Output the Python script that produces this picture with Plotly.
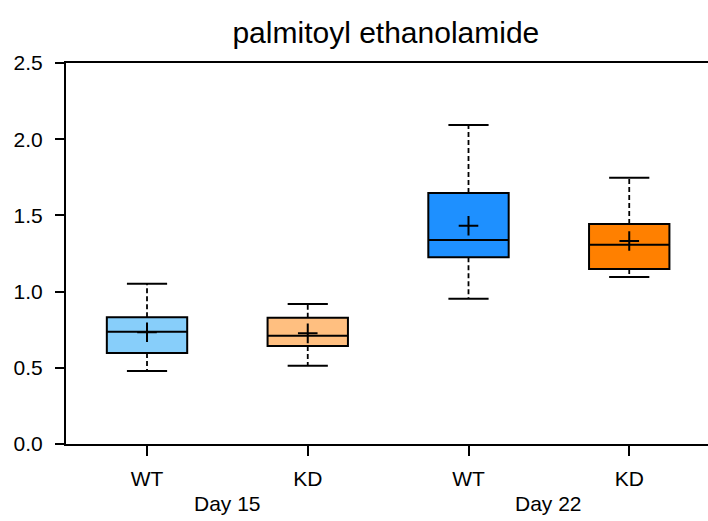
import plotly.graph_objects as go

categories = ["WT", "KD", "WT", "KD"]
groups = ["Day 15", "Day 22"]
q1 = [0.597, 0.643, 1.225, 1.148]
median = [0.737, 0.711, 1.339, 1.308]
q3 = [0.831, 0.829, 1.647, 1.444]
lower = [0.479, 0.514, 0.953, 1.096]
upper = [1.052, 0.919, 2.093, 1.747]
means = [0.733, 0.726, 1.432, 1.332]
colors = ["#87CEFA", "#FFBF80", "#1E90FF", "#FF8000"]

box_w = 0.5
cap_w = 0.25
fig = go.Figure()
for i in range(len(categories)):
    # dashed whiskers
    fig.add_trace(go.Scatter(
        x=[i, i, None, i, i], y=[q3[i], upper[i], None, q1[i], lower[i]],
        mode="lines", line=dict(color="black", width=1.8, dash="5px,3px"),
        hoverinfo="skip", showlegend=False))
    # caps
    fig.add_trace(go.Scatter(
        x=[i - cap_w / 2, i + cap_w / 2, None, i - cap_w / 2, i + cap_w / 2],
        y=[upper[i], upper[i], None, lower[i], lower[i]],
        mode="lines", line=dict(color="black", width=2),
        hoverinfo="skip", showlegend=False))
    fig.add_trace(go.Box(
        x=[i], q1=[q1[i]], median=[median[i]], q3=[q3[i]],
        lowerfence=[q1[i]], upperfence=[q3[i]],
        width=box_w, whiskerwidth=0,
        fillcolor=colors[i], line=dict(color="black", width=2),
        showlegend=False))
    fig.add_trace(go.Scatter(
        x=[i], y=[means[i]], mode="markers",
        marker=dict(symbol="cross-thin", size=14, line=dict(color="black", width=2)),
        showlegend=False))

for g, label in enumerate(groups):
    fig.add_annotation(x=2 * g + 0.5, y=0, xref="x", yref="paper",
                       yanchor="middle", yshift=-59, text=label, showarrow=False,
                       font=dict(size=21, color="black"))

fig.update_layout(
    width=708, height=521,
    margin=dict(l=66, r=0, t=63, b=77),
    paper_bgcolor="white", plot_bgcolor="white",
    font=dict(family="Liberation Sans, Arial, sans-serif", size=21, color="black"),
    title=dict(text="palmitoyl ethanolamide", x=0.545, xanchor="center",
               y=0.937, yanchor="middle", font=dict(size=30)),
)
fig.update_xaxes(
    range=[-0.504, 3.49], tickvals=list(range(len(categories))), ticktext=categories,
    showline=True, linecolor="black", linewidth=2, mirror=True,
    ticks="outside", ticklen=10, tickwidth=1.5, tickcolor="black",
    ticklabelstandoff=5,
    showgrid=False, zeroline=False)
fig.update_yaxes(
    range=[0, 2.5], tickvals=[0, 0.5, 1.0, 1.5, 2.0, 2.5],
    ticktext=["0.0", "0.5", "1.0", "1.5", "2.0", "2.5"],
    showline=True, linecolor="black", linewidth=2,
    ticks="outside", ticklen=9, tickwidth=1.5, tickcolor="black",
    ticklabelstandoff=8,
    showgrid=False, zeroline=False)

fig.write_html("out.html", config={"displayModeBar": False},
               post_script="document.body.style.margin='0';document.body.style.overflow='hidden';")
